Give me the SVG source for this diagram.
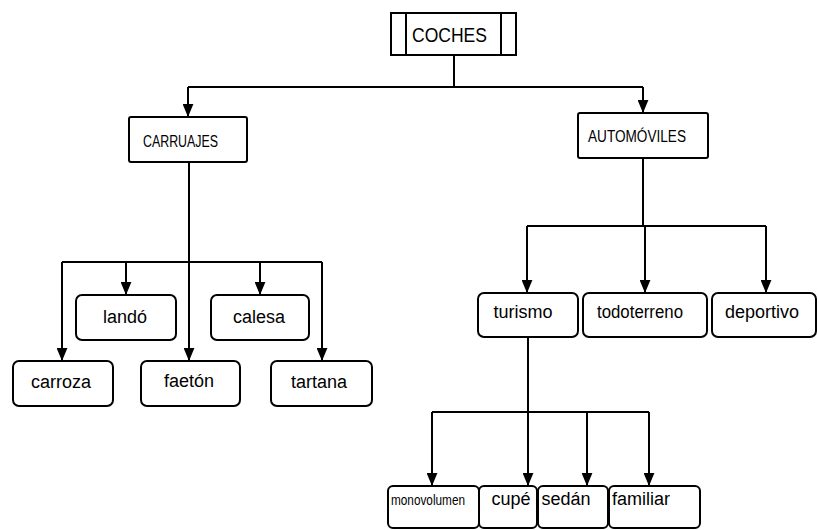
<svg xmlns="http://www.w3.org/2000/svg" width="819" height="530" viewBox="0 0 819 530">
<style>
.box{fill:#fff;stroke:#000;stroke-width:2}
.ln{fill:none;stroke:#000;stroke-width:2}
.ar{fill:none;stroke:#000;stroke-width:2;marker-end:url(#arr)}
text{font-family:"Liberation Sans",Arial,sans-serif;fill:#000}
.lc{font-size:18px;text-anchor:middle}
.uc{font-size:16px}
</style>
<defs>
<marker id="arr" viewBox="0 0 12 10" refX="12" refY="5" markerWidth="13" markerHeight="11" markerUnits="userSpaceOnUse" orient="auto">
<path d="M0,0 L12,5 L0,10 z" fill="#000"/>
</marker>
</defs>
<g id="connectors">
<path class="ln" d="M454,55 V87 M188,87 H643"/>
<path class="ar" d="M188,87 V117"/>
<path class="ar" d="M643,87 V113"/>
<path class="ar" d="M189,162 V361"/>
<path class="ln" d="M62,262 H322"/>
<path class="ar" d="M62,262 V361"/>
<path class="ar" d="M126,262 V295"/>
<path class="ar" d="M260,262 V295"/>
<path class="ar" d="M322,262 V361"/>
<path class="ln" d="M643,158 V226 M527,226 H766"/>
<path class="ar" d="M527,226 V293"/>
<path class="ar" d="M645,226 V293"/>
<path class="ar" d="M766,226 V293"/>
<path class="ar" d="M528,337 V486"/>
<path class="ln" d="M432,412 H649"/>
<path class="ar" d="M432,412 V486"/>
<path class="ar" d="M587,412 V486"/>
<path class="ar" d="M649,412 V486"/>
</g>
<g id="coches">
<rect class="box" x="391" y="13" width="125" height="42"/>
<path class="ln" d="M406,13 V55 M501,13 V55"/>
<text x="412" y="42" font-size="20" textLength="75" lengthAdjust="spacingAndGlyphs">COCHES</text>
</g>
<g id="carruajes">
<rect class="box" x="129" y="117" width="118" height="45" rx="2"/>
<text class="uc" x="143" y="147" textLength="75" lengthAdjust="spacingAndGlyphs">CARRUAJES</text>
</g>
<g id="automoviles">
<rect class="box" x="578" y="113" width="130" height="45" rx="2"/>
<text class="uc" x="588" y="142" textLength="98" lengthAdjust="spacingAndGlyphs">AUTOMÓVILES</text>
</g>
<g id="lando">
<rect class="box" x="76" y="295" width="100" height="45" rx="6"/>
<text class="lc" x="125" y="323">landó</text>
</g>
<g id="calesa">
<rect class="box" x="211" y="295" width="98" height="45" rx="6"/>
<text class="lc" x="259" y="323">calesa</text>
</g>
<g id="carroza">
<rect class="box" x="13" y="361" width="100" height="45" rx="6"/>
<text class="lc" x="61" y="388">carroza</text>
</g>
<g id="faeton">
<rect class="box" x="141" y="361" width="99" height="45" rx="6"/>
<text class="lc" x="189" y="387">faetón</text>
</g>
<g id="tartana">
<rect class="box" x="271" y="361" width="101" height="45" rx="6"/>
<text class="lc" x="319" y="388">tartana</text>
</g>
<g id="turismo">
<rect class="box" x="478" y="293" width="100" height="44" rx="6"/>
<text class="lc" x="523" y="318">turismo</text>
</g>
<g id="todoterreno">
<rect class="box" x="583" y="293" width="124" height="44" rx="6"/>
<text class="lc" x="640" y="318" textLength="86" lengthAdjust="spacingAndGlyphs">todoterreno</text>
</g>
<g id="deportivo">
<rect class="box" x="712" y="293" width="104" height="44" rx="6"/>
<text class="lc" x="762" y="318">deportivo</text>
</g>
<g id="monovolumen">
<rect class="box" x="388" y="486" width="91" height="42" rx="5"/>
<text x="391" y="505" font-size="15" textLength="74" lengthAdjust="spacingAndGlyphs">monovolumen</text>
</g>
<g id="cupe">
<rect class="box" x="479" y="486" width="58" height="42" rx="5"/>
<text class="lc" x="511" y="505">cupé</text>
</g>
<g id="sedan">
<rect class="box" x="538" y="486" width="70" height="42" rx="5"/>
<text class="lc" x="566" y="505">sedán</text>
</g>
<g id="familiar">
<rect class="box" x="609" y="486" width="91" height="42" rx="5"/>
<text class="lc" x="641" y="505">familiar</text>
</g>
</svg>
